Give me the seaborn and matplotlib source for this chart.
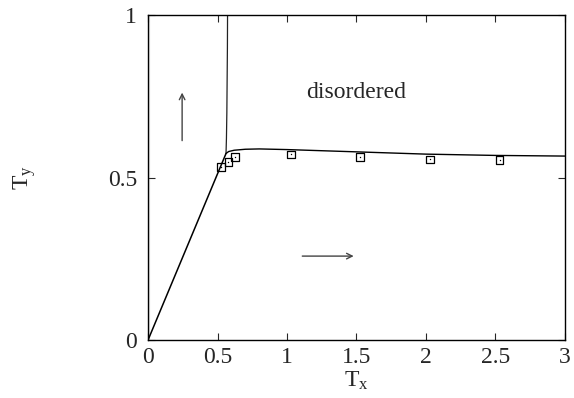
import numpy as np
import pandas as pd
import matplotlib
matplotlib.use('Agg')
import matplotlib.pyplot as plt
import seaborn as sns

# oblique boundary from origin to the multicritical point
line_x = [0.0, 0.561]
line_y = [0.0, 0.574]

# nearly vertical boundary going up to the top
vert_x = [0.561, 0.564, 0.567, 0.569, 0.571, 0.572]
vert_y = [0.574, 0.62, 0.70, 0.80, 0.90, 1.0]

# upper boundary towards large T_x
top_x = [0.561, 0.58, 0.62, 0.70, 0.80, 1.0, 1.5, 2.0, 2.5, 3.0]
top_y = [0.574, 0.580, 0.584, 0.587, 0.588, 0.586, 0.579, 0.572, 0.568, 0.566]

# left boundary hugging T_x = 0
left_x = [0.003, 0.003]
left_y = [0.0, 1.0]

# simulation points
pts_x = [0.525, 0.578, 0.626, 1.027, 1.525, 2.03, 2.53]
pts_y = [0.532, 0.547, 0.564, 0.571, 0.564, 0.556, 0.554]

x_ticks = [0, 0.5, 1, 1.5, 2, 2.5, 3]
x_labels = ['0', '0.5', '1', '1.5', '2', '2.5', '3']
y_ticks = [0, 0.5, 1]
y_labels = ['0', '0.5', '1']

sns.set_style('ticks')
plt.rcParams['font.family'] = ['Liberation Serif', 'DejaVu Serif']
plt.rcParams['mathtext.fontset'] = 'custom'
plt.rcParams['mathtext.rm'] = 'Liberation Serif'
plt.rcParams['mathtext.it'] = 'Liberation Serif'

fig = plt.figure(figsize=(5.74, 3.98), dpi=100)
ax = fig.add_axes([0.258, 0.146, 0.726, 0.816])

sns.lineplot(x=left_x, y=left_y, ax=ax, color='#999999', lw=2.0, sort=False)
sns.lineplot(x=line_x, y=line_y, ax=ax, color='black', lw=1.1, sort=False)
sns.lineplot(x=vert_x, y=vert_y, ax=ax, color='#222222', lw=0.9, sort=False)
sns.lineplot(x=top_x, y=top_y, ax=ax, color='black', lw=1.0, sort=False)

pts = pd.DataFrame({'x': pts_x, 'y': pts_y})
sns.scatterplot(data=pts, x='x', y='y', ax=ax, marker='s', s=30,
                facecolor='none', edgecolor='black', linewidth=0.9, zorder=4)
sns.scatterplot(data=pts, x='x', y='y', ax=ax, marker='.', s=4,
                color='black', linewidth=0, zorder=5)

ax.annotate('', xy=(0.245, 0.77), xytext=(0.245, 0.605),
            arrowprops=dict(arrowstyle='->', color='#444444', lw=1.0))
ax.annotate('', xy=(1.50, 0.258), xytext=(1.09, 0.258),
            arrowprops=dict(arrowstyle='->', color='#444444', lw=1.0))
ax.text(1.5, 0.763, 'disordered', ha='center', va='center', fontsize=17)

ax.set_xlim(0, 3)
ax.set_ylim(0, 1)
ax.set_xticks(x_ticks)
ax.set_xticklabels(x_labels)
ax.set_yticks(y_ticks)
ax.set_yticklabels(y_labels)
ax.tick_params(direction='in', top=True, right=True, length=5, width=0.8,
               labelsize=17)
ax.tick_params(axis='x', pad=5)
ax.tick_params(axis='y', pad=8)
for sp in ax.spines.values():
    sp.set_linewidth(1.0)
    sp.set_color('black')

ax.set_xlabel(r'T$_\mathrm{x}$', fontsize=17, labelpad=1)
ax.set_ylabel(r'T$_\mathrm{y}$', fontsize=17, labelpad=50)

fig.savefig('out.png', dpi=100)
